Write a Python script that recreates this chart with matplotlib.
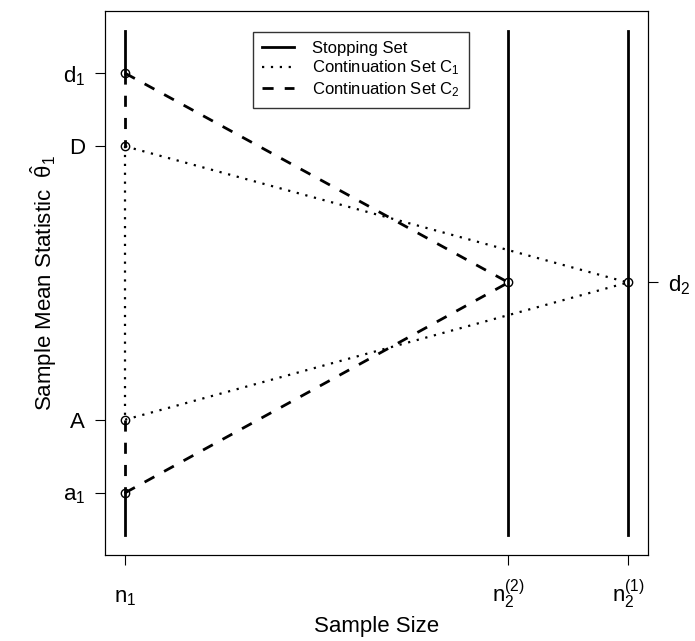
import matplotlib
matplotlib.use("Agg")
import matplotlib.pyplot as plt
from matplotlib.lines import Line2D

plt.rcParams['font.family'] = ['Liberation Sans', 'DejaVu Sans']
plt.rcParams['mathtext.fontset'] = 'custom'
plt.rcParams['mathtext.rm'] = 'Liberation Sans'
plt.rcParams['mathtext.it'] = 'Liberation Sans'

# sample sizes (x)
n1 = 20.0
n2_2 = 81.0
n2_1 = 100.0
# boundaries (y)
d1 = 2.09
D = 1.36
d2 = 0.0
A = -1.37
a1 = -2.10
y_lo, y_hi = -2.52, 2.51

x_ticks = [n1, n2_2, n2_1]
x_labels = [r'$\mathrm{n}_1$', r'$\mathrm{n}_2^{(2)}$', r'$\mathrm{n}_2^{(1)}$']
y_ticks = [d1, D, A, a1]
y_labels = [r'$\mathrm{d}_1$', 'D', 'A', r'$\mathrm{a}_1$']

W, H = 695, 641
fig = plt.figure(figsize=(W / 100, H / 100), dpi=100)
L, R, T, B = 105, 648, 11, 555
ax = fig.add_axes([L / W, (H - B) / H, (R - L) / W, (B - T) / H])

lw = 2.0
k = dict(color='black', lw=lw)
# stopping set
ax.plot([n1, n1], [d1, y_hi], '-', **k)
ax.plot([n1, n1], [y_lo, a1], '-', **k)
ax.plot([n2_2, n2_2], [y_lo, y_hi], '-', **k)
ax.plot([n2_1, n2_1], [y_lo, y_hi], '-', **k)
# continuation C1 (dotted)
dot = dict(color='black', lw=1.6, linestyle=(0, (1, 3)))
ax.plot([n1, n1], [D, A], **dot)
ax.plot([n1, n2_1], [D, d2], **dot)
ax.plot([n1, n2_1], [A, d2], **dot)
# continuation C2 (dashed)
dash = dict(color='black', lw=lw, linestyle=(0, (4, 4)))
ax.plot([n1, n1], [d1, D], **dash)
ax.plot([n1, n1], [A, a1], **dash)
ax.plot([n1, n2_2], [d1, d2], **dash)
ax.plot([n1, n2_2], [a1, d2], **dash)
# points
px = [n1, n1, n1, n1, n2_2, n2_1]
py = [d1, D, A, a1, d2, d2]
ax.plot(px, py, 'o', mfc='none', mec='black', ms=6, mew=1.0, zorder=5)

xr = n2_1 - n1
ax.set_xlim(n1 - 0.04 * xr, n2_1 + 0.04 * xr)
yr = y_hi - y_lo
ax.set_ylim(y_lo - 0.04 * yr, y_hi + 0.04 * yr)

fs = 16
px2pt = 0.72
ax.set_xticks(x_ticks)
ax.set_xticklabels(x_labels, fontsize=fs, va='baseline')
ax.set_yticks(y_ticks)
ax.set_yticklabels(y_labels, fontsize=fs)
ax.tick_params(axis='x', length=10 * px2pt, pad=37 * px2pt)
ax.tick_params(axis='y', length=10 * px2pt, pad=10 * px2pt)

ax2 = ax.twinx()
ax2.set_ylim(ax.get_ylim())
ax2.set_yticks([d2])
ax2.set_yticklabels([r'$\mathrm{d}_2$'], fontsize=fs)
ax2.tick_params(axis='y', length=10 * px2pt, pad=10 * px2pt)

fig.text((L + R) / 2 / W, (H - 632) / H, 'Sample Size', fontsize=fs,
         ha='center', va='baseline')
fig.text(52 / W, (H - (T + B) / 2) / H, r'Sample Mean Statistic  $\hat{\theta}_1$',
         fontsize=fs, rotation=90, rotation_mode='anchor', ha='center', va='baseline')

handles = [Line2D([], [], color='black', lw=lw, linestyle='-'),
           Line2D([], [], color='black', lw=1.6, linestyle=(0, (1, 3))),
           Line2D([], [], color='black', lw=lw, linestyle=(0, (4, 4)))]
labels = ['Stopping Set', r'Continuation Set $\mathrm{C}_1$', r'Continuation Set $\mathrm{C}_2$']
leg = ax.legend(handles, labels, loc='upper left',
                bbox_to_anchor=((253 - L) / (R - L), (B - 32) / (B - T)),
                borderaxespad=0, fontsize=12, frameon=True, fancybox=False,
                edgecolor='black', handlelength=1.9, handletextpad=1.1,
                labelspacing=0.15, borderpad=0.55)
leg.get_frame().set_linewidth(1.0)

fig.savefig('out.png', dpi=100)
